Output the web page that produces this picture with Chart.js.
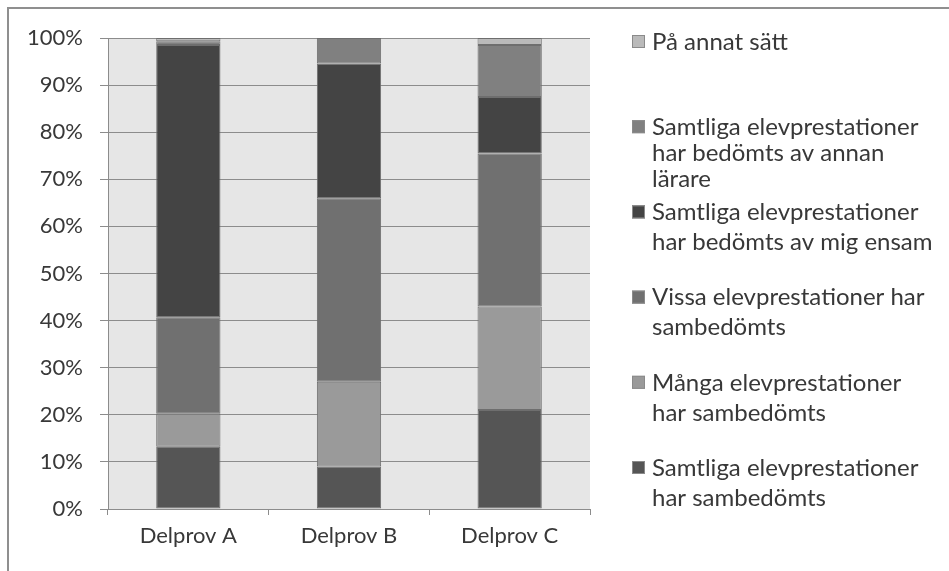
<!DOCTYPE html>
<html><head><meta charset="utf-8">
<script src="https://cdn.jsdelivr.net/npm/chart.js@4/dist/chart.umd.min.js"></script>
<style>
html,body{margin:0;padding:0;background:#fff;}
#wrap{position:relative;width:949px;height:571px;}
#frame{position:absolute;left:7px;top:7px;right:0;bottom:0;border-top:2px solid #8f8f8f;border-left:2px solid #8f8f8f;pointer-events:none;}
canvas{position:absolute;left:0;top:0;}
</style></head>
<body>
<div id="wrap"><canvas id="c" width="949" height="571"></canvas><div id="frame"></div></div>
<script>
const categories = ["Delprov A", "Delprov B", "Delprov C"];
const seriesNames = [
  "Samtliga elevprestationer\nhar sambedömts",
  "Många elevprestationer\nhar sambedömts",
  "Vissa elevprestationer har\nsambedömts",
  "Samtliga elevprestationer\nhar bedömts av mig ensam",
  "Samtliga elevprestationer\nhar bedömts av annan\nlärare",
  "På annat sätt"
];
const samtligaSambedomts = [13.2, 9.0, 21.0];
const mangaSambedomts    = [7.0, 18.0, 22.0];
const vissaSambedomts    = [20.5, 39.0, 32.5];
const migEnsam           = [57.8, 28.6, 12.0];
const annanLarare        = [0.8, 5.4, 11.0];
const paAnnatSatt        = [0.7, 0.0, 1.5];
const yTicks = [0,10,20,30,40,50,60,70,80,90,100];

const seriesValues = [samtligaSambedomts, mangaSambedomts, vissaSambedomts, migEnsam, annanLarare, paAnnatSatt];
const seriesColors = ["#555555", "#9a9a9a", "#707070", "#444444", "#808080", "#bababa"];

const FONT = "Lato, 'Open Sans', sans-serif";

const bgPlugin = {
  id: 'bg',
  beforeDraw(chart) {
    const {ctx, chartArea: a} = chart;
    ctx.save();
    ctx.fillStyle = '#e6e6e6';
    ctx.fillRect(a.left, a.top, a.right - a.left, a.bottom - a.top);
    ctx.restore();
  }
};

const legendPlugin = {
  id: 'sideLegend',
  afterDraw(chart) {
    const ctx = chart.ctx;
    ctx.save();
    ctx.font = "24px " + FONT;
    ctx.textBaseline = 'middle';
    ctx.textAlign = 'left';
    const n = chart.data.datasets.length;
    for (let k = 0; k < n; k++) {
      const i = n - 1 - k;
      const ds = chart.data.datasets[i];
      const lines = ds.label.split("\n");
      const y0 = 42 + k * 85.2;
      const lh = lines.length > 2 ? 26 : 30;
      ctx.fillStyle = ds.backgroundColor;
      ctx.fillRect(632, y0 - 7, 13, 13);
      ctx.strokeStyle = '#8a8a8a';
      ctx.lineWidth = 1;
      ctx.strokeRect(632.5, y0 - 6.5, 12, 12);
      ctx.fillStyle = '#383838';
      lines.forEach((t, j) => ctx.fillText(t, 652, y0 + j * lh));
    }
    ctx.restore();
  }
};

new Chart(document.getElementById('c'), {
  type: 'bar',
  data: {
    labels: categories,
    datasets: seriesValues.map((vals, i) => ({
      label: seriesNames[i],
      data: vals,
      backgroundColor: seriesColors[i],
      borderColor: '#6e6e6e',
      borderWidth: 1,
      borderSkipped: false,
      categoryPercentage: 1.0,
      barPercentage: 0.4
    }))
  },
  options: {
    responsive: false,
    animation: false,
    devicePixelRatio: 1,
    layout: { padding: { left: 0, right: 359, top: 38, bottom: 0 } },
    plugins: { legend: { display: false }, tooltip: { enabled: false } },
    scales: {
      x: {
        stacked: true,
        grid: { drawOnChartArea: false, offset: true, tickLength: 6, color: '#8c8c8c' },
        border: { color: '#8c8c8c' },
        ticks: { color: '#383838', font: { family: FONT, size: 22 }, padding: 8 },
        afterFit(s) { s.height = 62; }
      },
      y: {
        stacked: true,
        min: 0, max: 100,
        afterBuildTicks(s) { s.ticks = yTicks.map(v => ({ value: v })); },
        grid: { color: '#8c8c8c', tickLength: 8 },
        border: { color: '#8c8c8c' },
        ticks: { color: '#383838', font: { family: FONT, size: 22 }, padding: 17, callback: v => v + '%' },
        afterFit(s) { s.width = 108; }
      }
    }
  },
  plugins: [bgPlugin, legendPlugin]
});
</script>
</body></html>
